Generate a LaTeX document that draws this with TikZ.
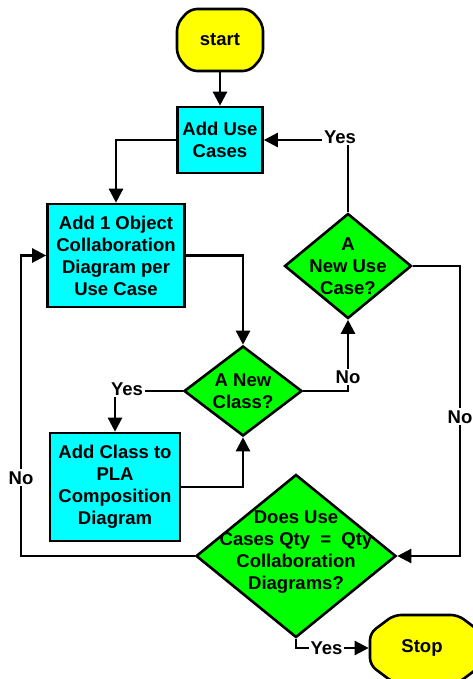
\documentclass[tikz,border=0pt]{standalone}
\usepackage{fontspec}
\setmainfont{Liberation Sans}
\usetikzlibrary{shapes.geometric,arrows.meta}

\definecolor{termyellow}{RGB}{255,255,0}
\definecolor{proccyan}{RGB}{0,255,255}
\definecolor{decgreen}{RGB}{0,255,0}

\tikzset{
  txt/.style={font=\bfseries\fontsize{18.5pt}{22pt}\selectfont, align=center, inner sep=0pt},
  base/.style={txt, draw, line width=2.6pt},
  termline/.style={draw, line width=2.6pt, fill=termyellow, rounded corners=7pt},
  term/.style={txt, rectangle, outer sep=1.3pt},
  proc/.style={base, fill=proccyan, rectangle},
  decide/.style={base, fill=decgreen, diamond},
  flow/.style={line width=2.4pt, -{Triangle[length=14pt,width=14pt]}},
  lbl/.style={txt, fill=white, inner sep=2pt},
}

% centre x, centre y, half width, half height, chamfer x, chamfer y
\newcommand{\termpath}[6]{%
  \path[termline] (#1-#3+#5, #2-#4) -- (#1+#3-#5, #2-#4) -- (#1+#3, #2-#4+#6)
    -- (#1+#3, #2+#4-#6) -- (#1+#3-#5, #2+#4) -- (#1-#3+#5, #2+#4)
    -- (#1-#3, #2+#4-#6) -- (#1-#3, #2-#4+#6) -- cycle;}

\begin{document}
\begin{tikzpicture}[x=1pt, y=-1pt]
  \def\Xa{21};
  \def\Xb{116};
  \def\Xc{220};
  \def\Xd{243};
  \def\Xe{296};
  \def\Xf{348};
  \def\Xg{460};
  \def\Xh{426};

  \useasboundingbox (0,0) rectangle (472,679);

  % terminals
  \termpath{\Xc}{40}{43}{31}{13}{15}
  \node[term, minimum width=86pt, minimum height=62pt] (start) at (\Xc, 40) {start};
  \termpath{\Xh}{649}{56}{34}{24}{18}
  \node[term, minimum width=104pt, minimum height=62pt] (stop) at (422, 648) {Stop};

  % boxes
  \node[proc, minimum width=85pt, minimum height=66pt] (addUC) at (\Xc, 140) {Add Use\\Cases};
  \node[proc, minimum width=137pt, minimum height=103pt] (addOC) at (\Xb, 255.5)
    {Add 1 Object\\Collaboration\\Diagram per\\Use Case};
  \node[proc, minimum width=130pt, minimum height=108pt] (addCls) at (\Xb - 1, 487)
    {Add Class to\\PLA\\Composition\\Diagram};

  % decisions
  \node[decide, minimum width=127pt, minimum height=105pt] (newUC) at (\Xf, 266) {};
  \node[txt] (newUCtxt) at (newUC) {A\\New Use\\Case?};
  \node[decide, minimum width=118pt, minimum height=90pt] (newCls) at (\Xd, 391) {};
  \node[txt] (newClstxt) at (newCls) {A New\\Class?};
  \node[decide, minimum width=200pt, minimum height=163pt] (qty) at (\Xe, 556) {};
  \node[txt] (qtytxt) at (\Xe, 552) {Does Use\\Cases Qty~~=~~Qty\\Collaboration\\Diagrams?};

  % bends
  \coordinate (rbend) at (\Xg, 556);
  \coordinate (lbend) at (\Xa, 556);

  % arrows
  \draw[flow] (start.south) -- (addUC.north);
  \draw[flow] (addUC.west) -| (addOC.north);
  \draw[flow] (addOC.east) -| (newCls.north);
  \draw[flow] (newCls.west) -| node[lbl, pos=0.5, xshift=12pt, yshift=2pt] {Yes} (addCls.north);
  \draw[flow] (addCls.east) -| (newCls.south);
  \draw[flow] (newCls.east) -| node[lbl, pos=0.5, yshift=14pt] {No} (newUC.south);
  \draw[flow] (newUC.north) |- node[lbl, pos=0.5, xshift=-8pt, yshift=3pt] {Yes} (addUC.east);
  \draw[flow] (newUC.east) -| node[lbl, pos=0.76] {No} (rbend) -- (qty.east);
  \draw[flow] (qty.west) -- (lbend) |- node[lbl, pos=0.13] {No} (addOC.west);
  \draw[flow] (qty.south) |- node[lbl, pos=0.71] {Yes} (stop.west);
\end{tikzpicture}
\end{document}
